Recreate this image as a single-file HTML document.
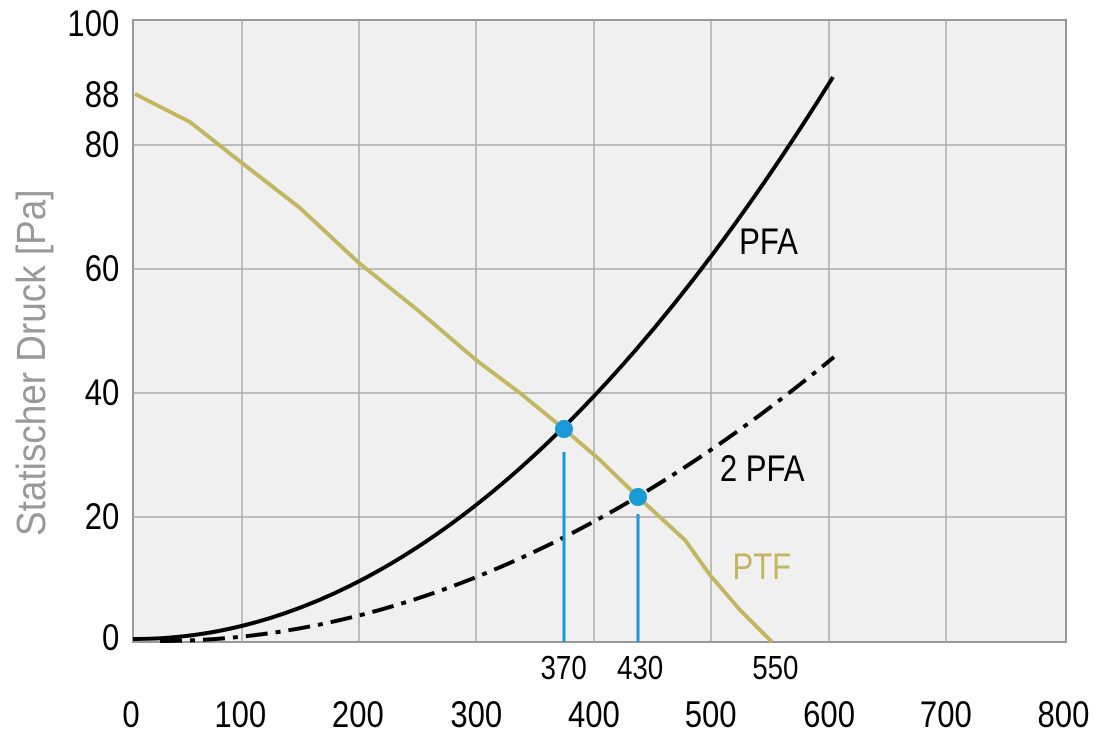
<!DOCTYPE html>
<html><head><style>body{margin:0;background:#fff}svg{display:block}text{font-family:"Liberation Sans",sans-serif}</style></head><body>
<svg width="1111" height="745" viewBox="0 0 1111 745">
<rect x="133" y="20" width="933" height="622" fill="#f0f0f0" stroke="#999" stroke-width="2"/>
<g stroke="#aaa" stroke-width="1.5">
<line x1="242" y1="20" x2="242" y2="642"/><line x1="359" y1="20" x2="359" y2="642"/><line x1="476" y1="20" x2="476" y2="642"/><line x1="594" y1="20" x2="594" y2="642"/><line x1="711" y1="20" x2="711" y2="642"/><line x1="829" y1="20" x2="829" y2="642"/><line x1="946" y1="20" x2="946" y2="642"/>
<line x1="133" y1="145" x2="1066" y2="145"/><line x1="133" y1="269" x2="1066" y2="269"/><line x1="133" y1="393" x2="1066" y2="393"/><line x1="133" y1="517" x2="1066" y2="517"/>
</g>
<line x1="133" y1="642" x2="1066" y2="642" stroke="#999" stroke-width="2"/>
<polyline fill="none" stroke="#c2b660" stroke-width="4" stroke-linejoin="round" points="135,94 190,122 242,163 300,208 359,263 420,312 476,360 520,393 564,429 600,460 638,497 685,540 710,575 740,610 772,642"/>
<path fill="none" stroke="#000" stroke-width="4" d="M133,639 Q483,641 833,77"/>
<path fill="none" stroke="#000" stroke-width="4" stroke-dasharray="22,8,5,8" d="M160,641 Q490,641 834,357"/>
<g stroke="#1a9ad6" stroke-width="3"><line x1="564" y1="452" x2="564" y2="642"/><line x1="638" y1="514" x2="638" y2="642"/></g>
<circle cx="564" cy="429" r="9" fill="#1a9ad6"/><circle cx="638" cy="497" r="9" fill="#1a9ad6"/>
<g font-size="37" fill="#000" transform="scale(0.84,1)">
<text x="142" y="36" text-anchor="end">100</text>
<text x="142" y="107" text-anchor="end">88</text>
<text x="142" y="157" text-anchor="end">80</text>
<text x="142" y="281" text-anchor="end">60</text>
<text x="142" y="405" text-anchor="end">40</text>
<text x="142" y="529" text-anchor="end">20</text>
<text x="142" y="650" text-anchor="end">0</text>
<g text-anchor="middle">
<text x="156" y="727">0</text><text x="286" y="727">100</text><text x="426" y="727">200</text><text x="567" y="727">300</text><text x="707" y="727">400</text><text x="846" y="727">500</text><text x="987" y="727">600</text><text x="1126" y="727">700</text><text x="1266" y="727">800</text>
<text x="671" y="679" font-size="33">370</text><text x="762" y="679" font-size="33">430</text><text x="923" y="679" font-size="33">550</text>
</g>
<text x="880" y="254">PFA</text>
<text x="857" y="481">2 PFA</text>
<text x="872" y="579" fill="#c2b660">PTF</text>
</g>
<text transform="translate(45,536) rotate(-90) scale(0.9,1)" font-size="41" fill="#999">Statischer Druck [Pa]</text>
</svg>
</body></html>
